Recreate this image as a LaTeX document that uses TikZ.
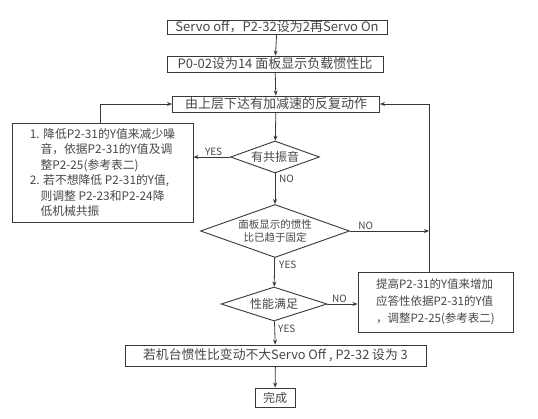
\documentclass[tikz,border=0pt]{standalone}
\usepackage{fontspec}
\setmainfont{Noto Sans CJK SC}
\usetikzlibrary{shapes.geometric,arrows.meta}
\definecolor{ink}{gray}{0.22}
\definecolor{txt}{gray}{0.28}
\tikzset{
  box/.style={draw=ink,line width=0.9pt,rectangle,inner sep=0pt,text=txt,align=center},
  dia/.style={draw=ink,line width=0.9pt,diamond,shape aspect=2.8,inner sep=0pt,text=txt,align=center},
  conn/.style={draw=ink,line width=0.8pt,-{Stealth[length=5pt,width=4pt]}},
  lbl/.style={text=txt,font=\fontsize{10}{11}\selectfont,inner sep=1pt}
}
\begin{document}
\begin{tikzpicture}[x=1pt,y=-1pt]
\path[use as bounding box,fill=white] (0,0) rectangle (538,419);
\node[box,minimum width=220,minimum height=14,font=\fontsize{13}{13}\selectfont] (b1) at (277,27) {Servo off，P2-32设为2再Servo On};
\node[box,minimum width=216,minimum height=16,font=\fontsize{13}{13}\selectfont] (b2) at (275,64) {P0-02设为14 面板显示负载惯性比};
\node[box,minimum width=207,minimum height=16,font=\fontsize{13}{13}\selectfont] (b3) at (276,104) {由上层下达有加减速的反复动作};
\node[dia,minimum width=89,minimum height=32,font=\fontsize{12}{12}\selectfont] (d1) at (275,157) {有共振音};
\node[dia,minimum width=149,minimum height=53,font=\fontsize{10.5}{13}\selectfont] (d2) at (275,231) {面板显示的惯性\\比已趋于固定};
\node[dia,minimum width=106,minimum height=34,font=\fontsize{12}{12}\selectfont] (d3) at (274,304) {性能满足};
\node[box,minimum width=181,minimum height=99,align=left,font=\fontsize{11.8}{15.5}\selectfont] (lb) at (102.5,172.5)
 {1. 降低P2-31的Y值来减少噪\\
  \hspace*{0.9em}音，依据P2-31的Y值及调\\
  \hspace*{0.9em}整P2-25(参考表二)\\
  2. 若不想降低 P2-31的Y值,\\
  \hspace*{0.9em}则调整 P2-23和P2-24降\\
  \hspace*{0.9em}低机械共振};
\node[box,minimum width=155,minimum height=60,align=left,font=\fontsize{11.5}{17}\selectfont] (rb) at (435.5,302)
 {提高P2-31的Y值来增加\\应答性依据P2-31的Y值\\，调整P2-25(参考表二)};
\node[box,minimum width=301,minimum height=21,font=\fontsize{12.8}{13}\selectfont] (fb) at (275.5,355.5) {若机台惯性比变动不大Servo Off , P2-32 设为 3};
\node[box,minimum width=40,minimum height=19,font=\fontsize{12}{12}\selectfont] (done) at (275,397.5) {完成};
\coordinate (rx) at (429,231);
\draw[conn] (b1) -- (b2);
\draw[conn] (b2) -- (b3);
\draw[conn] (b3) -- (d1);
\draw[conn] (d1.west) -- node[lbl,above,pos=0.45] {YES} (lb.east |- d1.west);
\draw[conn] (d1) -- (d2);
\node[lbl,anchor=west] at (278,179) {NO};
\draw[conn] (d2) -- (d3);
\node[lbl,anchor=west] at (278,265) {YES};
\draw[conn] (d2.east) -- node[lbl,above,pos=0.2] {NO} (rx);
\draw[conn] (d3.east) -- node[lbl,above,pos=0.4] {NO} (rb.west |- d3.east);
\draw[conn] (d3) -- (fb);
\node[lbl,anchor=west] at (277,329) {YES};
\draw[conn] (fb) -- (done);
\draw[conn] (lb.north -| 100,0) |- (b3.west);
\draw[conn] (rb.north -| rx) |- (b3.east);
\end{tikzpicture}
\end{document}
